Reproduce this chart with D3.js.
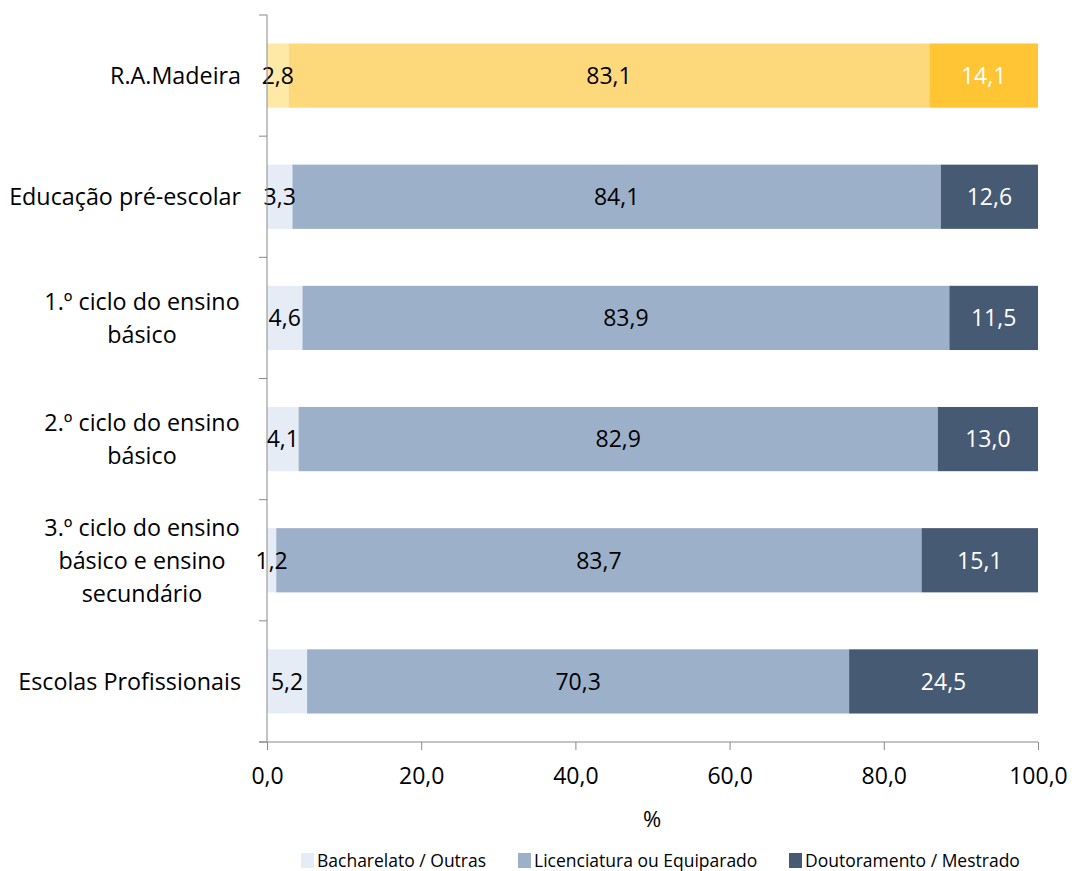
<!DOCTYPE html>
<html><head><meta charset="utf-8">
<script src="https://cdn.jsdelivr.net/npm/d3@7"></script>
<style>body{margin:0;background:#fff}text{font-family:"Open Sans",sans-serif}</style>
</head><body><svg id="c" width="1072" height="871"></svg>
<script>
const categories = ["R.A.Madeira","Educação pré-escolar","1.º ciclo do ensino básico","2.º ciclo do ensino básico","3.º ciclo do ensino básico e ensino secundário","Escolas Profissionais"];
const catLines = [["R.A.Madeira"],["Educação pré-escolar"],["1.º ciclo do ensino","básico"],["2.º ciclo do ensino","básico"],["3.º ciclo do ensino","básico e ensino","secundário"],["Escolas Profissionais"]];
const seriesNames = ["Bacharelato / Outras","Licenciatura ou Equiparado","Doutoramento / Mestrado"];
const bacharelato = [2.8,3.3,4.6,4.1,1.2,5.2];
const licenciatura = [83.1,84.1,83.9,82.9,83.7,70.3];
const doutoramento = [14.1,12.6,11.5,13.0,15.1,24.5];
const xTicks = [0,20,40,60,80,100];
const colors = ["#E6ECF5","#9DB0C9","#475A73"];
const colorsMadeira = ["#FFE9A6","#FED97B","#FFC535"];
const labelColors = ["#000","#000","#fff"];

const svg = d3.select("#c");
const x = d3.scaleLinear().domain([0,100]).range([267,1038]);
const y = d3.scaleBand().domain(categories).range([15,742]).paddingInner(0.47).paddingOuter(0.235);
const fmt = v => v.toFixed(1).replace(".",",");

const series = [bacharelato, licenciatura, doutoramento];
categories.forEach((c,i)=>{
  let start = 0;
  series.forEach((s,k)=>{
    const v = s[i];
    const col = i===0 ? colorsMadeira[k] : colors[k];
    svg.append("rect").attr("x",x(start)).attr("y",y(c)).attr("width",x(start+v)-x(start)).attr("height",y.bandwidth()).attr("fill",col);
    start += v;
  });
});
categories.forEach((c,i)=>{
  let start = 0;
  series.forEach((s,k)=>{
    const v = s[i];
    svg.append("text").attr("x",(x(start)+x(start+v))/2).attr("y",y(c)+y.bandwidth()/2).attr("dy","0.36em")
      .attr("text-anchor","middle").attr("font-size",23).attr("fill",labelColors[k]).text(fmt(v));
    start += v;
  });
});

// y axis
const axisCol = "#898989";
svg.append("line").attr("x1",267).attr("x2",267).attr("y1",15).attr("y2",742).attr("stroke",axisCol);
const step = (742-15)/categories.length;
for(let j=0;j<=categories.length;j++){
  svg.append("line").attr("x1",259).attr("x2",267).attr("y1",15+j*step).attr("y2",15+j*step).attr("stroke",axisCol);
}
// category labels
categories.forEach((c,i)=>{
  const lines = catLines[i];
  const cy = y(c)+y.bandwidth()/2;
  const lh = 33;
  const t = svg.append("text").attr("font-size",23.3).attr("fill","#000");
  const spans = lines.map((l,j)=> t.append("tspan").attr("y", cy + (j-(lines.length-1)/2)*lh).attr("dy","0.36em").text(l));
  if(lines.length>1){ t.attr("text-anchor","middle"); spans.forEach(s=>s.attr("x",142)); }
  else { t.attr("text-anchor","end"); spans.forEach(s=>s.attr("x",241)); }
});

// x axis
const xg = svg.append("g").attr("transform","translate(0,742)")
  .call(d3.axisBottom(x).tickValues(xTicks).tickSize(8).tickFormat(fmt));
xg.select(".domain").attr("stroke",axisCol).attr("d","M259,0H1038");
xg.selectAll(".tick line").attr("stroke",axisCol);
xg.selectAll(".tick text").attr("font-size",23).attr("fill","#000").attr("font-family","'Open Sans',sans-serif").attr("dy","0").attr("y",42);
svg.append("text").attr("x",652).attr("y",827).attr("text-anchor","middle").attr("font-size",22).text("%");

// legend
const legX = [301,518,789];
seriesNames.forEach((n,k)=>{
  svg.append("rect").attr("x",legX[k]).attr("y",853).attr("width",13).attr("height",15).attr("fill",colors[k]);
  svg.append("text").attr("x",legX[k]+16).attr("y",867).attr("font-size",17.5).text(n);
});
</script></body></html>
